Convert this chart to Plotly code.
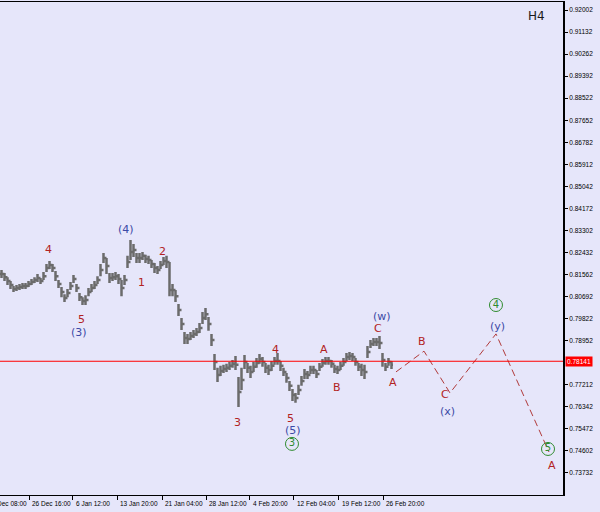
import plotly.graph_objects as go

# ---- price data (H4 bars) ----
high = [0.8174,0.8162,0.8146,0.8131,0.8111,0.8115,0.8119,0.8123,0.8123,0.8131,
        0.8139,0.8146,0.8158,0.8143,0.8166,0.8198,0.8210,0.8198,0.8170,0.8135,
        0.8107,0.8079,0.8099,0.8127,0.8154,0.8119,0.8083,0.8067,0.8075,0.8103,
        0.8119,0.8131,0.8150,0.8198,0.8241,0.8222,0.8162,0.8162,0.8166,0.8158,
        0.8135,0.8154,0.8230,0.8293,0.8277,0.8241,0.8241,0.8245,0.8234,0.8230,
        0.8214,0.8202,0.8190,0.8210,0.8226,0.8230,0.8206,0.8119,0.8095,0.8040,
        0.7985,0.7930,0.7922,0.7930,0.7937,0.7945,0.7965,0.8008,0.8024,0.7989,
        0.7922,0.7843,0.7788,0.7796,0.7800,0.7804,0.7811,0.7819,0.7835,0.7752,
        0.7788,0.7839,0.7807,0.7796,0.7811,0.7827,0.7843,0.7831,0.7807,0.7800,
        0.7815,0.7831,0.7847,0.7815,0.7788,0.7768,0.7736,0.7705,0.7689,0.7721,
        0.7756,0.7784,0.7776,0.7796,0.7796,0.7780,0.7807,0.7823,0.7831,0.7831,
        0.7819,0.7800,0.7796,0.7811,0.7827,0.7847,0.7851,0.7847,0.7827,0.7807,
        0.7804,0.7800,0.7874,0.7898,0.7906,0.7906,0.7914,0.7847,0.7807,0.7827,
        0.7815]
low = [0.8143,0.8131,0.8115,0.8099,0.8087,0.8091,0.8095,0.8099,0.8099,0.8107,
       0.8115,0.8123,0.8127,0.8119,0.8135,0.8166,0.8178,0.8166,0.8131,0.8103,
       0.8067,0.8048,0.8067,0.8095,0.8123,0.8087,0.8052,0.8036,0.8036,0.8071,
       0.8087,0.8099,0.8119,0.8150,0.8202,0.8158,0.8123,0.8131,0.8135,0.8119,
       0.8071,0.8115,0.8182,0.8214,0.8226,0.8202,0.8202,0.8214,0.8202,0.8198,
       0.8182,0.8162,0.8158,0.8178,0.8194,0.8182,0.8071,0.8071,0.8048,0.7993,
       0.7937,0.7882,0.7882,0.7898,0.7906,0.7914,0.7926,0.7961,0.7977,0.7934,
       0.7874,0.7780,0.7732,0.7756,0.7768,0.7772,0.7780,0.7788,0.7780,0.7634,
       0.7701,0.7784,0.7768,0.7748,0.7772,0.7788,0.7804,0.7792,0.7768,0.7760,
       0.7776,0.7800,0.7800,0.7776,0.7756,0.7729,0.7697,0.7657,0.7650,0.7681,
       0.7717,0.7744,0.7744,0.7764,0.7764,0.7748,0.7776,0.7792,0.7800,0.7800,
       0.7788,0.7768,0.7764,0.7780,0.7796,0.7815,0.7819,0.7815,0.7796,0.7776,
       0.7756,0.7744,0.7827,0.7866,0.7874,0.7874,0.7862,0.7792,0.7776,0.7796,
       0.7784]
close = [0.8158,0.8146,0.8131,0.8115,0.8099,0.8103,0.8107,0.8111,0.8111,0.8119,
         0.8127,0.8135,0.8143,0.8131,0.8150,0.8182,0.8194,0.8182,0.8150,0.8119,
         0.8087,0.8064,0.8083,0.8111,0.8139,0.8103,0.8067,0.8052,0.8056,0.8087,
         0.8103,0.8115,0.8135,0.8174,0.8222,0.8190,0.8143,0.8146,0.8150,0.8139,
         0.8103,0.8135,0.8206,0.8245,0.8253,0.8222,0.8222,0.8230,0.8218,0.8214,
         0.8198,0.8182,0.8174,0.8194,0.8210,0.8206,0.8095,0.8095,0.8071,0.8016,
         0.7961,0.7906,0.7902,0.7914,0.7922,0.7930,0.7945,0.7985,0.8000,0.7961,
         0.7898,0.7811,0.7760,0.7776,0.7784,0.7788,0.7796,0.7804,0.7800,0.7693,
         0.7740,0.7811,0.7788,0.7772,0.7792,0.7807,0.7823,0.7811,0.7788,0.7780,
         0.7796,0.7815,0.7815,0.7796,0.7772,0.7748,0.7717,0.7681,0.7669,0.7701,
         0.7736,0.7764,0.7760,0.7780,0.7780,0.7764,0.7792,0.7807,0.7815,0.7815,
         0.7804,0.7784,0.7780,0.7796,0.7811,0.7831,0.7835,0.7831,0.7811,0.7792,
         0.7780,0.7772,0.7851,0.7882,0.7890,0.7890,0.7886,0.7819,0.7792,0.7811,
         0.7800]
open_ = [close[0]] + close[:-1]
bars = list(range(len(close)))

# ---- price axis ----
price_ticks = [0.92002,0.91132,0.90262,0.89392,0.88522,0.87652,0.86782,0.85912,
               0.85042,0.84172,0.83302,0.82432,0.81562,0.80692,0.79822,0.78952,
               0.77212,0.76342,0.75472,0.74602,0.73732]
current_price = 0.78141

# ---- time axis (bar index of each label) ----
time_labels = ["19 Dec 08:00","26 Dec 16:00","6 Jan 12:00","13 Jan 20:00","21 Jan 04:00",
               "28 Jan 12:00","4 Feb 20:00","12 Feb 04:00","19 Feb 12:00","26 Feb 20:00"]
time_pos = [-5.5, 9.17, 23.83, 38.5, 53.5, 68.17, 82.83, 97.5, 112.5, 127.17]

# ---- projected wave path ----
wave_x = [131.5, 140.83, 149.5, 164.83, 182.5]
wave_y = [0.7772, 0.7854, 0.7689, 0.7922, 0.7456]

# ---- wave labels ----
RED = "#b22222"; BLUE = "#3c4aa6"; GREEN = "#2e8b2e"
lab_x = [15.83, 26.5, 25.83, 41.5, 53.83, 46.83, 91.17, 78.5, 96.5, 97.17,
         107.5, 111.83, 126.83, 125.5, 130.5, 140.17, 147.83, 148.83, 165.17, 183.5]
lab_y = [0.8257, 0.7977, 0.7926, 0.8336, 0.8249, 0.8123, 0.7862, 0.7574, 0.7590, 0.7539,
         0.7862, 0.7709, 0.7989, 0.7945, 0.7732, 0.7894, 0.7681, 0.7614, 0.7953, 0.7401]
lab_text = ["4", "5", "(3)", "(4)", "2", "1", "4", "3", "5", "(5)",
            "A", "B", "(w)", "C", "A", "B", "C", "(x)", "(y)", "A"]
lab_col = ["r", "r", "b", "b", "r", "r", "r", "r", "r", "b",
           "r", "r", "b", "r", "r", "r", "r", "b", "b", "r"]

# circled (green) wave labels
circ_x = [96.83, 164.83, 182.17]
circ_y = [0.7488, 0.8036, 0.7468]
circ_text = ["3", "4", "5"]

XR = [-0.5, 187.17]
YR = [0.72863, 0.92318]
BG = "#e6e6fa"

fig = go.Figure()
fig.add_trace(go.Ohlc(x=bars, open=open_, high=high, low=low, close=close,
                      increasing=dict(line=dict(color="#6b6b6b", width=2.5)),
                      decreasing=dict(line=dict(color="#6b6b6b", width=2.5)),
                      tickwidth=0.5, hoverinfo="skip", showlegend=False))
fig.add_trace(go.Scatter(x=wave_x, y=wave_y, mode="lines",
                         line=dict(color="#b03a3a", width=1, dash="7px,4px"),
                         hoverinfo="skip", showlegend=False))
fig.add_trace(go.Scatter(x=circ_x, y=circ_y, mode="markers+text", text=circ_text,
                         textposition="middle center",
                         textfont=dict(family="DejaVu Sans", size=10, color=GREEN),
                         marker=dict(symbol="circle-open", size=13,
                                     line=dict(color=GREEN, width=1), color=GREEN),
                         hoverinfo="skip", showlegend=False))

fig.add_shape(type="line", xref="paper", x0=0, x1=1, yref="y",
              y0=current_price, y1=current_price, line=dict(color="#ff0000", width=1))

cmap = {"r": RED, "b": BLUE}
for x, y, t, c in zip(lab_x, lab_y, lab_text, lab_col):
    fig.add_annotation(x=x, y=y, text=t, showarrow=False,
                       font=dict(family="DejaVu Sans", size=11, color=cmap[c]))

span = XR[1] - XR[0]
for p, t in zip(time_pos, time_labels):
    fig.add_annotation(xref="paper", yref="paper", x=(p - XR[0]) / span, y=0,
                       xanchor="left", yanchor="top", xshift=1, yshift=-3,
                       text=t, showarrow=False,
                       font=dict(family="Liberation Sans", size=6.5, color="#000"))

fig.add_annotation(xref="paper", x=1, y=current_price, xanchor="left", xshift=2,
                   text=f"{current_price:.5f}", showarrow=False, bgcolor="#ff0000",
                   borderpad=1, font=dict(family="Liberation Sans", size=6.5, color="#fff"))

fig.add_annotation(xref="paper", yref="paper", x=536 / 563, y=1, yshift=-14,
                   xanchor="center", yanchor="middle",
                   text="H4", showarrow=False,
                   font=dict(family="DejaVu Sans", size=12, color="#1a1a1a"))

fig.update_layout(
    width=600, height=512, margin=dict(l=0, r=37, t=2, b=17),
    paper_bgcolor=BG, plot_bgcolor=BG, showlegend=False,
    xaxis=dict(range=XR, showgrid=False, zeroline=False, showline=True, mirror=True,
               linecolor="#000", linewidth=1, ticks="outside", ticklen=4,
               tickcolor="#000", tickvals=[p for p in time_pos if p > XR[0]],
               showticklabels=False, rangeslider=dict(visible=False), fixedrange=True),
    yaxis=dict(range=YR, side="right", showgrid=False, zeroline=False, showline=True,
               linecolor="#000", linewidth=2, ticks="outside", ticklen=3,
               tickcolor="#000", tickvals=price_ticks,
               ticktext=[f"{v:.5f}" for v in price_ticks],
               tickfont=dict(family="Liberation Sans", size=6.5, color="#000"),
               fixedrange=True),
)

fig.write_html("out.html", config={"displayModeBar": False},
               post_script="document.body.style.margin='0';")
